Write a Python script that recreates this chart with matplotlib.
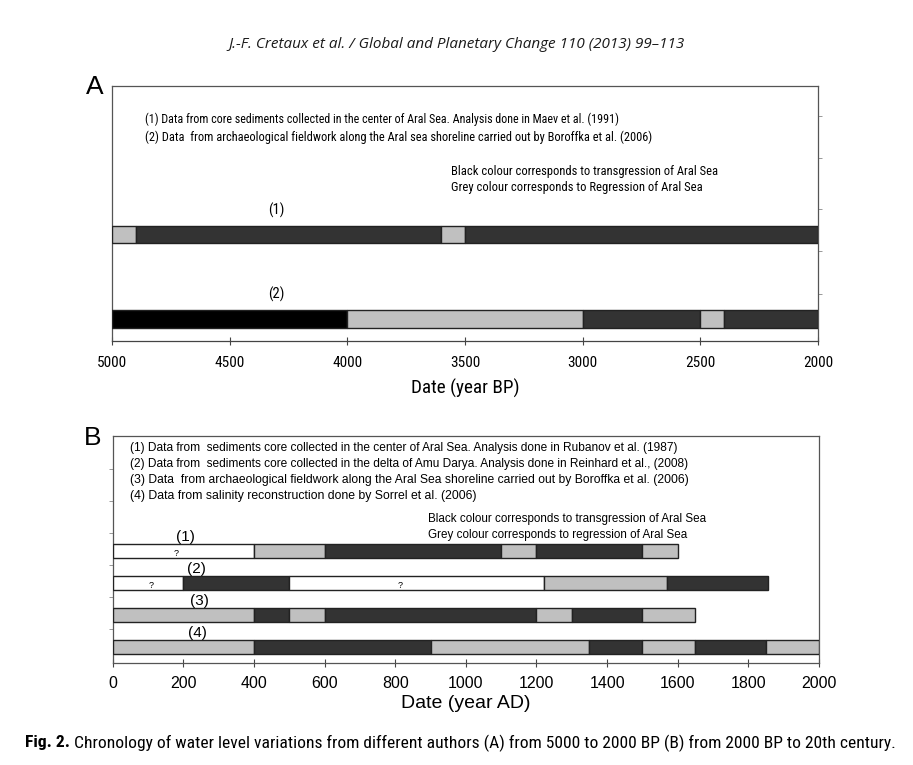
import matplotlib
matplotlib.use("Agg")
import matplotlib.pyplot as plt
from matplotlib import font_manager as fm
from matplotlib.font_manager import FontProperties

# ---------------- data ----------------
# Panel A (years BP); segments: (start, end, colour key)
a_rows = ["(1)", "(2)"]
a_row1_edges = [5000, 4900, 3600, 3500, 2000]
a_row1_kind = ["grey", "dark", "grey", "dark"]
a_row2_edges = [5000, 4000, 3000, 2500, 2400, 2000]
a_row2_kind = ["black", "grey", "dark", "grey", "dark"]
a_ticks = [5000, 4500, 4000, 3500, 3000, 2500, 2000]

# Panel B (years AD)
b_rows = ["(1)", "(2)", "(3)", "(4)"]
b_row1_edges = [0, 400, 600, 1100, 1200, 1500, 1600]
b_row1_kind = ["white", "grey", "dark", "grey", "dark", "grey"]
b_row2_edges = [0, 200, 500, 1220, 1570, 1855]
b_row2_kind = ["white", "dark", "white", "grey", "dark"]
b_row3_edges = [0, 400, 500, 600, 1200, 1300, 1500, 1650]
b_row3_kind = ["grey", "dark", "grey", "dark", "grey", "dark", "grey"]
b_row4_edges = [0, 400, 900, 1350, 1500, 1650, 1850, 2000]
b_row4_kind = ["grey", "dark", "grey", "dark", "grey", "dark", "grey"]
b_ticks = list(range(0, 2001, 200))
b_question_marks = [(181, 1), (110, 2), (814, 2)]  # (year, row)

a_notes = ["(1) Data from core sediments collected in the center of Aral Sea. Analysis done in Maev et al. (1991)",
           "(2) Data  from archaeological fieldwork along the Aral sea shoreline carried out by Boroffka et al. (2006)"]
a_legend = ["Black colour corresponds to transgression of Aral Sea",
            "Grey colour corresponds to Regression of Aral Sea"]
b_notes = ["(1) Data from  sediments core collected in the center of Aral Sea. Analysis done in Rubanov et al. (1987)",
           "(2) Data from  sediments core collected in the delta of Amu Darya. Analysis done in Reinhard et al., (2008)",
           "(3) Data  from archaeological fieldwork along the Aral Sea shoreline carried out by Boroffka et al. (2006)",
           "(4) Data from salinity reconstruction done by Sorrel et al. (2006)"]
b_legend = ["Black colour corresponds to transgression of Aral Sea",
            "Grey colour corresponds to regression of Aral Sea"]

header = "J.-F. Cretaux et al. / Global and Planetary Change 110 (2013) 99\u2013113"
caption_bold = "Fig. 2."
caption_rest = "Chronology of water level variations from different authors (A) from 5000 to 2000 BP (B) from 2000 BP to 20th century."

COL = {"grey": "#c0c0c0", "dark": "#333333", "black": "#000000", "white": "#ffffff"}


# ---------------- fonts ----------------
def find_condensed(bold=False):
    best = None
    best_score = -1
    for f in fm.fontManager.ttflist:
        if f.style != "normal":
            continue
        w = f.weight if isinstance(f.weight, int) else (700 if "bold" in str(f.weight) else 400)
        if bold != (w >= 600):
            continue
        if bold and w > 750:
            continue
        if not bold and w != 400:
            continue
        nm = f.name + " " + f.fname
        cond = ("Narrow" in nm or "Condensed" in nm or f.stretch in ("condensed", "semi-condensed"))
        if not cond or "Extra" in nm or "Ultra" in nm or "Semi" in nm.split("/")[-1]:
            continue
        score = 1
        if "Liberation Sans Narrow" in f.name:
            score = 5
        elif "Roboto" in nm:
            score = 4
        elif "Noto Sans" in f.name:
            score = 3
        elif "DejaVu" in nm:
            score = 2
        if score > best_score:
            best, best_score = f.fname, score
    return best


_cr = find_condensed(False)
_cb = find_condensed(True)


def NFP(size, bold=False):
    path = _cb if bold else _cr
    if path:
        return FontProperties(fname=path, size=size)
    return FontProperties(family="Liberation Sans", size=size, weight="bold" if bold else "normal")


def AFP(size):
    return FontProperties(family="Liberation Sans", size=size)


W, H = 913, 765
fig = plt.figure(figsize=(W / 100, H / 100), dpi=100)
fig.patch.set_facecolor("white")


def fx(px):
    return px / W


def fy(py):
    return 1 - py / H


def draw_row(ax, edges, kinds, y, h):
    for i, k in enumerate(kinds):
        ax.barh(y, edges[i + 1] - edges[i], left=edges[i], height=h,
                color=COL[k], edgecolor="#222222", linewidth=1.0, zorder=3)


renderer = fig.canvas.get_renderer()


def fit(t, target_px):
    bb = t.get_window_extent(renderer)
    t.set_fontsize(t.get_fontsize() * target_px / bb.width)


# ---------------- Panel A ----------------
axA = fig.add_axes([fx(112), fy(341), fx(818 - 112), (341 - 86) / H])
axA.set_xlim(5000, 2000)
axA.set_ylim(2.26, -0.757)
draw_row(axA, a_row1_edges, a_row1_kind, 1, 0.2)
draw_row(axA, a_row2_edges, a_row2_kind, 2, 0.21)
for i, lab in enumerate(a_rows):
    axA.text(4300, i + 1 - 0.2, lab, ha="center", va="bottom", fontproperties=NFP(10.5))
axA.set_xticks(a_ticks)
axA.set_xticklabels([str(t) for t in a_ticks])
for lab in axA.get_xticklabels():
    lab.set_fontproperties(NFP(11))
axA.tick_params(axis="x", direction="inout", length=6, width=0.8, color="#444444", pad=8)
axA.yaxis.tick_right()
axA.set_yticks([-0.4, 0.1, 0.7, 1.2, 1.7])
axA.set_yticklabels([])
axA.tick_params(axis="y", direction="out", length=3, width=0.6, color="#888888")
for s in axA.spines.values():
    s.set_color("#555555")
    s.set_linewidth(0.9)
axA.spines["bottom"].set_color("#444444")
xl = axA.set_xlabel("Date (year BP)", fontproperties=NFP(15), labelpad=6)

t = fig.text(fx(145), fy(119), a_notes[0], fontproperties=NFP(9), va="center")
fit(t, 475)
t = fig.text(fx(145), fy(137), a_notes[1], fontproperties=NFP(9), va="center")
fit(t, 507)
t = fig.text(fx(451), fy(171), a_legend[0], fontproperties=NFP(9), va="center")
fit(t, 267)
t = fig.text(fx(451), fy(188), a_legend[1], fontproperties=NFP(9), va="center")
fit(t, 251)
fig.text(fx(95), fy(87), "A", ha="center", va="center", fontproperties=AFP(19))

# fit the A x-label width to the reference (~109 px)
fit(xl, 109)

# ---------------- Panel B ----------------
axB = fig.add_axes([fx(112.7), fy(663), fx(819 - 112.7), (663 - 436) / H])
axB.set_xlim(0, 2000)
axB.set_ylim(4.51, -2.58)
b_all = [(b_row1_edges, b_row1_kind), (b_row2_edges, b_row2_kind),
         (b_row3_edges, b_row3_kind), (b_row4_edges, b_row4_kind)]
b_label_x = [205, 237, 245, 240]
for i, (e, k) in enumerate(b_all):
    draw_row(axB, e, k, i + 1, 0.44)
    axB.text(b_label_x[i], i + 1 - 0.2, b_rows[i], ha="center", va="bottom",
             fontproperties=AFP(11))
for yr, r in b_question_marks:
    axB.text(yr, r + 0.08, "?", ha="center", va="center", fontproperties=AFP(6.5), zorder=4)
axB.set_xticks(b_ticks)
axB.set_xticklabels([str(t) for t in b_ticks], family="Liberation Sans", fontsize=11.5)
axB.tick_params(axis="x", direction="inout", length=6, width=0.8, color="#444444", pad=6)
axB.set_yticks([-1.55, -0.55, 0.45, 1.45, 2.45, 3.45])
axB.set_yticklabels([])
axB.tick_params(axis="y", direction="out", length=3, width=0.6, color="#888888")
for s in axB.spines.values():
    s.set_color("#555555")
    s.set_linewidth(0.9)
axB.set_xlabel("Date (year AD)", family="Liberation Sans", fontsize=14, labelpad=3)

b_note_y = [448, 464, 480, 496]
b_note_w = [545, 558, 556, 344]
for s_, yy, ww in zip(b_notes, b_note_y, b_note_w):
    t = fig.text(fx(130), fy(yy), s_, fontproperties=AFP(7.5), va="center")
    fit(t, ww)
t = fig.text(fx(428), fy(519), b_legend[0], fontproperties=AFP(7.5), va="center")
fit(t, 277)
t = fig.text(fx(428), fy(535), b_legend[1], fontproperties=AFP(7.5), va="center")
fit(t, 256)
fig.text(fx(93), fy(438), "B", ha="center", va="center", fontproperties=AFP(19))

# ---------------- header & caption ----------------
t = fig.text(0.5, fy(44), header, ha="center", va="center", style="italic",
             family="Open Sans", fontsize=11, color="#1a1a1a")
fit(t, 455)

tb = fig.text(fx(25), fy(743), caption_bold, ha="left", va="center",
              fontproperties=NFP(11, bold=True))
tr = fig.text(fx(25), fy(743), caption_rest, ha="left", va="center",
              fontproperties=NFP(11))
for _ in range(3):
    bbb = tb.get_window_extent(renderer)
    gap = 0.35 * tb.get_fontsize()
    tr.set_position((fx(25) + (bbb.width + gap) / W, fy(743)))
    bbr = tr.get_window_extent(renderer)
    scale = (897 - 25) / (bbr.x1 - bbb.x0)
    tb.set_fontsize(tb.get_fontsize() * scale)
    tr.set_fontsize(tr.get_fontsize() * scale)
bbb = tb.get_window_extent(renderer)
tr.set_position((fx(25) + (bbb.width + 0.35 * tb.get_fontsize()) / W, fy(743)))

fig.savefig("out.png", dpi=100, facecolor="white")
